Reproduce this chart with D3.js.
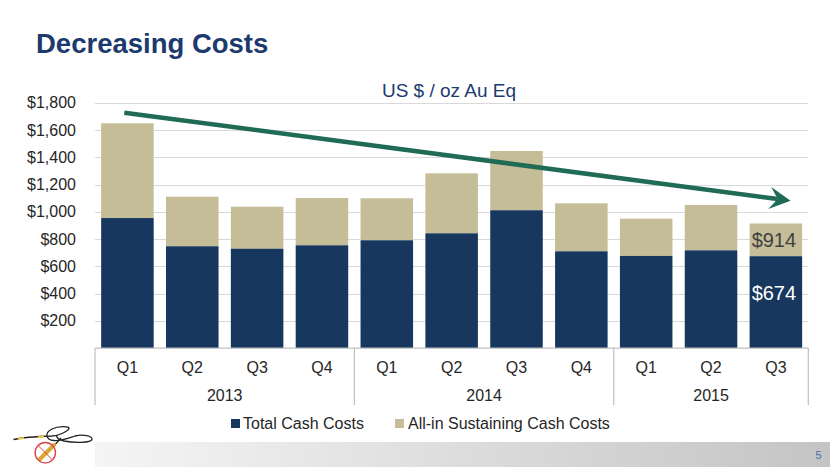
<!DOCTYPE html>
<html>
<head>
<meta charset="utf-8">
<script src="https://cdn.jsdelivr.net/npm/d3@7"></script>
<style>
  html, body { margin: 0; padding: 0; background: #ffffff; }
  svg { display: block; font-family: "Liberation Sans", Arial, sans-serif; }
</style>
</head>
<body>
<svg id="chart" width="830" height="467"></svg>
<script>
// ---------- data ----------
const years = ["2013", "2014", "2015"];
const quarters = ["Q1", "Q2", "Q3", "Q4", "Q1", "Q2", "Q3", "Q4", "Q1", "Q2", "Q3"];
const quarterYears = ["2013", "2013", "2013", "2013", "2014", "2014", "2014", "2014", "2015", "2015", "2015"];
const totalCashCosts = [954, 747, 729, 754, 791, 842, 1011, 710, 676, 717, 674];
const allInSustaining = [1649, 1111, 1037, 1101, 1099, 1282, 1446, 1062, 949, 1050, 914];
const yTicks = [200, 400, 600, 800, 1000, 1200, 1400, 1600, 1800];
const seriesNames = ["Total Cash Costs", "All-in Sustaining Cash Costs"];
const seriesColors = ["#17375E", "#C4BD97"];
const labelIndex = 10; // Q3 2015 labels
const trendStartValue = 1727;
const trendEndValue = 1081;

// ---------- layout ----------
const svg = d3.select("#chart");
const plot = { left: 95, right: 808.3, top: 102.7, bottom: 348.1 };
const keys = quarters.map((q, i) => quarterYears[i] + " " + q);

const x = d3.scaleBand().domain(keys).range([plot.left, plot.right])
  .paddingInner(0.19).paddingOuter(0.095);
const y = d3.scaleLinear().domain([0, 1800]).range([plot.bottom, plot.top]);

// footer band
const defs = svg.append("defs");
const grad = defs.append("linearGradient").attr("id", "foot").attr("x1", "0").attr("x2", "1").attr("y1", "0").attr("y2", "0");
grad.append("stop").attr("offset", "0").attr("stop-color", "#f5f5f5");
grad.append("stop").attr("offset", "1").attr("stop-color", "#c4c4c4");
svg.append("rect").attr("x", 95).attr("y", 442).attr("width", 735).attr("height", 25).attr("fill", "url(#foot)");
svg.append("text").attr("x", 821.5).attr("y", 458.5).attr("text-anchor", "end")
  .attr("font-size", 11).attr("fill", "#4A6FA5").text("5");

// title
svg.append("text").attr("x", 36).attr("y", 53).attr("font-size", 27.5).attr("font-weight", "bold")
  .attr("fill", "#1C3A6E").text("Decreasing Costs");
svg.append("text").attr("x", 449).attr("y", 96.5).attr("text-anchor", "middle")
  .attr("font-size", 19).attr("fill", "#1C3A6E").text("US $ / oz Au Eq");

// gridlines
svg.append("g").selectAll("line").data(yTicks).join("line")
  .attr("x1", plot.left).attr("x2", plot.right)
  .attr("y1", d => Math.round(y(d)) + 0.5).attr("y2", d => Math.round(y(d)) + 0.5)
  .attr("stroke", "#D9D9D9").attr("stroke-width", 1);

// y axis labels
const yAxis = d3.axisLeft(y).tickValues(yTicks).tickSize(0).tickPadding(0)
  .tickFormat(d => "$" + d3.format(",")(d));
const ya = svg.append("g").attr("transform", "translate(76,0)").call(yAxis);
ya.select(".domain").remove();
ya.selectAll("text").attr("font-size", 16).attr("fill", "#262626")
  .attr("font-family", "Liberation Sans, Arial, sans-serif");

// bars
const barData = keys.map((k, i) => ({ k, tcc: totalCashCosts[i], aisc: allInSustaining[i] }));
svg.append("g").selectAll("rect").data(barData).join("rect")
  .attr("x", d => x(d.k)).attr("width", x.bandwidth())
  .attr("y", d => y(d.aisc)).attr("height", d => y(d.tcc) - y(d.aisc))
  .attr("fill", seriesColors[1]);
svg.append("g").selectAll("rect").data(barData).join("rect")
  .attr("x", d => x(d.k)).attr("width", x.bandwidth())
  .attr("y", d => y(d.tcc)).attr("height", d => y(0) - y(d.tcc))
  .attr("fill", seriesColors[0]);

// data labels for last bar
const lk = keys[labelIndex];
svg.append("text").attr("x", x(lk) + x.bandwidth() / 2 - 2)
  .attr("y", (y(allInSustaining[labelIndex]) + y(totalCashCosts[labelIndex])) / 2 + 7)
  .attr("text-anchor", "middle").attr("font-size", 20).attr("fill", "#404040")
  .text("$" + allInSustaining[labelIndex]);
svg.append("text").attr("x", x(lk) + x.bandwidth() / 2 - 2)
  .attr("y", (y(totalCashCosts[labelIndex]) + y(0)) / 2 - 2)
  .attr("text-anchor", "middle").attr("font-size", 20).attr("fill", "#ffffff")
  .text("$" + totalCashCosts[labelIndex]);

// category axis (multi-level)
const axisG = svg.append("g");
const boxBottom = 405;
axisG.append("line").attr("x1", plot.left).attr("x2", plot.right)
  .attr("y1", y(0)).attr("y2", y(0)).attr("stroke", "#BFBFBF").attr("stroke-width", 1.2);
const seps = [plot.left];
years.forEach(yr => {
  const ks = keys.filter((k, i) => quarterYears[i] === yr);
  const last = ks[ks.length - 1];
  seps.push(x(last) + x.bandwidth() + x.step() * x.paddingInner() / 2);
});
seps[seps.length - 1] = plot.right;
axisG.selectAll("line.sep").data(seps).join("line").attr("class", "sep")
  .attr("x1", d => d).attr("x2", d => d).attr("y1", y(0)).attr("y2", boxBottom)
  .attr("stroke", "#BFBFBF").attr("stroke-width", 1.2);
axisG.selectAll("text.q").data(keys).join("text").attr("class", "q")
  .attr("x", d => x(d) + x.bandwidth() / 2).attr("y", 372.5)
  .attr("text-anchor", "middle").attr("font-size", 16).attr("fill", "#262626")
  .text((d, i) => quarters[i]);
axisG.selectAll("text.yr").data(years).join("text").attr("class", "yr")
  .attr("x", (d, i) => (seps[i] + seps[i + 1]) / 2).attr("y", 401)
  .attr("text-anchor", "middle").attr("font-size", 16).attr("fill", "#262626")
  .text(d => d);

// legend
const legendItems = [{ x: 231, tx: 243 }, { x: 395, tx: 408 }];
const lg = svg.append("g");
seriesNames.forEach((name, i) => {
  lg.append("rect").attr("x", legendItems[i].x).attr("y", 419).attr("width", 9).attr("height", 9)
    .attr("fill", seriesColors[i]);
  lg.append("text").attr("x", legendItems[i].tx).attr("y", 429).attr("font-size", 16)
    .attr("fill", "#262626").text(name);
});

// trend arrow
const x0 = x(keys[0]) + x.bandwidth() * 0.44, y0 = y(trendStartValue);
const x1 = x(keys[keys.length - 1]) + x.bandwidth() * 0.78, y1 = y(trendEndValue);
const ang = Math.atan2(y1 - y0, x1 - x0);
const headLen = 21, headW = 11, notch = 13;
const ux = Math.cos(ang), uy = Math.sin(ang), px = -uy, py = ux;
const green = "#1F6B56";
svg.append("line").attr("x1", x0).attr("y1", y0)
  .attr("x2", x1 - ux * notch).attr("y2", y1 - uy * notch)
  .attr("stroke", green).attr("stroke-width", 4.5);
const head = [
  [x1, y1],
  [x1 - ux * headLen + px * headW, y1 - uy * headLen + py * headW],
  [x1 - ux * notch, y1 - uy * notch],
  [x1 - ux * headLen - px * headW, y1 - uy * headLen - py * headW]
];
svg.append("polygon").attr("points", head.map(p => p.join(",")).join(" ")).attr("fill", green);

// logo (signature + emblem)
const logo = svg.append("g");
logo.append("path")
  .attr("d", "M13.5,439.5 C25,437 38,436.5 52,436 C60,435.5 68,431 69,428.5 C70,426 58,426 52,429 C44,433 46,440 54,440.5 C62,441 70,437.5 75,436 C83,434 93,436 92,439.5 C91,443 74,443 64,441 C58,439.5 56,437 57,435")
  .attr("fill", "none").attr("stroke", "#222").attr("stroke-width", 1.3);
logo.append("path").attr("d", "M18,438.8 L24,438").attr("stroke", "#E8C832").attr("stroke-width", 2);
logo.append("path").attr("d", "M38,437 L44,436.5").attr("stroke", "#E8C832").attr("stroke-width", 2);
logo.append("path").attr("d", "M61,438 L52,448").attr("stroke", "#222").attr("stroke-width", 1.2);
logo.append("path").attr("d", "M54,445 L40,459").attr("stroke", "#D9A830").attr("stroke-width", 4).attr("stroke-linecap", "round");
logo.append("circle").attr("cx", 45.3).attr("cy", 452.7).attr("r", 10.2)
  .attr("fill", "none").attr("stroke", "#E0404A").attr("stroke-width", 1.3);
logo.append("path").attr("d", "M38.2,445.6 L52.4,459.8").attr("stroke", "#E0404A").attr("stroke-width", 1);
</script>
</body>
</html>
